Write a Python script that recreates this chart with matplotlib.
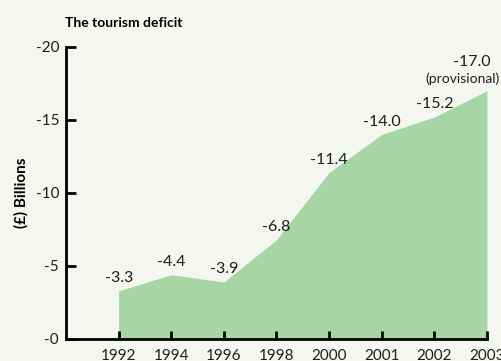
import matplotlib.pyplot as plt
import numpy as np

plt.rcParams['font.family'] = ['Lato', 'DejaVu Sans']

years = ['1992', '1994', '1996', '1998', '2000', '2001', '2002', '2003']
deficit = [-3.3, -4.4, -3.9, -6.8, -11.4, -14.0, -15.2, -17.0]
yticks = [0, -5, -10, -15, -20]
ytick_labels = ['-0', '-5', '-10', '-15', '-20']

bg = '#f3f7f0'
fill = '#a8d5a5'
txt = '#1e1e1e'

fig = plt.figure(figsize=(5.02, 3.61), dpi=100, facecolor=bg)
ax = fig.add_axes([0.1315, 0.061, 0.8385, 0.809], facecolor=bg)

x = np.arange(len(years))
ax.fill_between(x, deficit, 0, color=fill, linewidth=0)

for xi, v in zip(x, deficit):
    if xi == len(years) - 1:
        ax.annotate('%.1f' % v, (xi, v), xytext=(3, 16), textcoords='offset points',
                    ha='right', va='bottom', fontsize=11.5, color=txt)
        ax.annotate('(provisional)', (xi, v), xytext=(9, 4), textcoords='offset points',
                    ha='right', va='bottom', fontsize=10, color=txt)
    else:
        ax.annotate('%.1f' % v, (xi, v), xytext=(0, 4), textcoords='offset points',
                    ha='center', va='bottom', fontsize=11.5, color=txt)

ax.set_xlim(-1, len(years) - 1)
ax.set_ylim(0, -20)
ax.set_xticks(x)
ax.set_xticklabels(years, fontsize=11)
ax.set_yticks(yticks)
ax.set_yticklabels(ytick_labels, fontsize=11)

ax.tick_params(axis='both', direction='in', width=2, color='black', labelcolor=txt)
ax.tick_params(axis='y', length=7, pad=5)
ax.tick_params(axis='x', length=6, pad=7)
for s in ['top', 'right']:
    ax.spines[s].set_visible(False)
for s in ['left', 'bottom']:
    ax.spines[s].set_linewidth(2)

ax.set_ylabel('(£) Billions', fontsize=11, fontweight='bold', labelpad=5)
fig.text(0.13, 0.925, 'The tourism deficit', fontsize=10, fontweight='bold', ha='left')

fig.savefig('out.png', dpi=100, facecolor=bg)
